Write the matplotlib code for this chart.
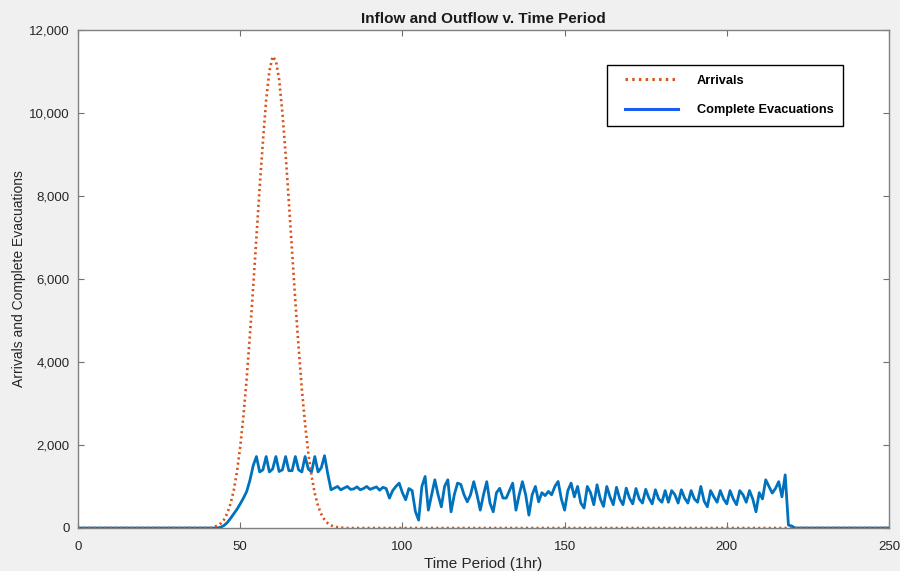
import numpy as np
import matplotlib
matplotlib.use("Agg")
import matplotlib.pyplot as plt
from matplotlib.lines import Line2D
from matplotlib.legend_handler import HandlerLine2D
from matplotlib.ticker import FuncFormatter

# ---- data (hourly) ----
hours = np.arange(0, 251)

arrivals_start = 42
arrivals_vals = [30, 60, 110, 200, 350, 580, 900, 1350, 1950, 2700, 3600, 4650,
                 5800, 7000, 8200, 9300, 10300, 11000, 11350, 11250, 10800, 10000,
                 9000, 7850, 6650, 5450, 4350, 3350, 2500, 1800, 1250, 830, 530,
                 330, 200, 115, 65, 35, 18, 8, 3]

evac_start = 43
evac_vals = [0, 20, 60, 130, 230, 340, 450, 580, 720, 880, 1150, 1500,
             1720, 1350, 1400, 1720, 1350, 1420, 1720, 1360, 1400, 1720, 1380, 1380,
             1720, 1400, 1350, 1720, 1420, 1350, 1720, 1350, 1450, 1740, 1300,
             920, 960, 1000, 920, 960, 1000, 930, 940, 990, 920, 950, 1000, 930, 960,
             990, 910, 980, 950, 720, 900, 1000, 1080, 850, 680, 950, 900, 400, 190,
             1000, 1240, 430, 800, 1160, 800, 510, 1000, 1160,
             390, 800, 1080, 1050, 800, 630, 800, 1115, 800, 430, 800, 1115, 600, 390,
             850, 955, 720, 720, 900, 1080, 430, 800, 1115, 800, 310, 800, 1000, 630,
             850, 780, 880, 800, 1000,
             1120, 700, 430, 900, 1080, 750, 1000, 600, 480, 1000, 850, 560, 1040, 700,
             520, 1000, 750, 560, 980, 700, 560, 960, 720, 580, 950, 700, 600, 930, 720,
             580, 920, 700, 620,
             900, 620, 900, 800, 600, 920, 720, 600, 900, 700, 620, 1000, 650, 510, 900,
             750, 620, 900, 700, 580, 900, 700, 560, 900, 800, 620, 900, 700, 390, 850,
             700, 1160, 1000, 840, 950, 1115, 750, 1280, 70, 50, 0]

arrivals = np.zeros(len(hours))
arrivals[arrivals_start:arrivals_start + len(arrivals_vals)] = arrivals_vals
evacuations = np.zeros(len(hours))
evacuations[evac_start:evac_start + len(evac_vals)] = evac_vals

x_ticks = [0, 50, 100, 150, 200, 250]
y_ticks = [0, 2000, 4000, 6000, 8000, 10000, 12000]

title = "Inflow and Outflow v. Time Period"
x_label = "Time Period (1hr)"
y_label = "Arrivals and Complete Evacuations"
series_names = ["Arrivals", "Complete Evacuations"]

# ---- styling ----
ORANGE = "#D95319"
BLUE = "#0072BD"
plt.rcParams['font.family'] = ['Liberation Sans', 'DejaVu Sans']

fig = plt.figure(figsize=(9, 5.71), dpi=100, facecolor="#f0f0f0")
ax = fig.add_axes([78 / 900, 1 - 528 / 571, 811 / 900, 498.5 / 571])
ax.set_facecolor("white")

ax.plot(hours, evacuations, color=BLUE, lw=2.0, zorder=3)
ax.plot(hours, arrivals, color=ORANGE, lw=1.9, ls=(0, (0.8, 1.2)), zorder=4)

ax.set_xlim(0, 250)
ax.set_ylim(0, 12000)
ax.set_xticks(x_ticks)
ax.set_yticks(y_ticks)
ax.yaxis.set_major_formatter(FuncFormatter(lambda v, p: f"{int(v):,}"))
ax.tick_params(direction="in", top=True, right=True, length=4, width=0.8,
               colors="#707070", labelcolor="#262626", labelsize=9.5)
ax.tick_params(axis="x", pad=9)
ax.tick_params(axis="y", pad=6)
for s in ax.spines.values():
    s.set_color("#808080")
    s.set_linewidth(1.0)

ax.set_title(title, fontsize=11, fontweight="bold", color="#1a1a1a", pad=5)
ax.set_xlabel(x_label, fontsize=11, color="#262626", labelpad=3)
ax.set_ylabel(y_label, fontsize=10, color="#262626", labelpad=2)

handles = [Line2D([], [], color=ORANGE, lw=2.2, ls=(0, (0.8, 1.4))),
           Line2D([], [], color="#1a5cf0", lw=2.2)]
hmap = {h: HandlerLine2D(xpad=0.63) for h in handles}
leg = ax.legend(handles, series_names, loc="upper left", handler_map=hmap,
                bbox_to_anchor=(0.652, 0.929), frameon=True, fancybox=False,
                edgecolor="black", framealpha=1, borderpad=0.78, labelspacing=1.36,
                handlelength=4.77, handletextpad=1.49, borderaxespad=0,
                prop={'size': 9.2, 'weight': 'bold'})
leg.get_frame().set_linewidth(1.0)

fig.savefig("out.png", dpi=100, facecolor=fig.get_facecolor())
